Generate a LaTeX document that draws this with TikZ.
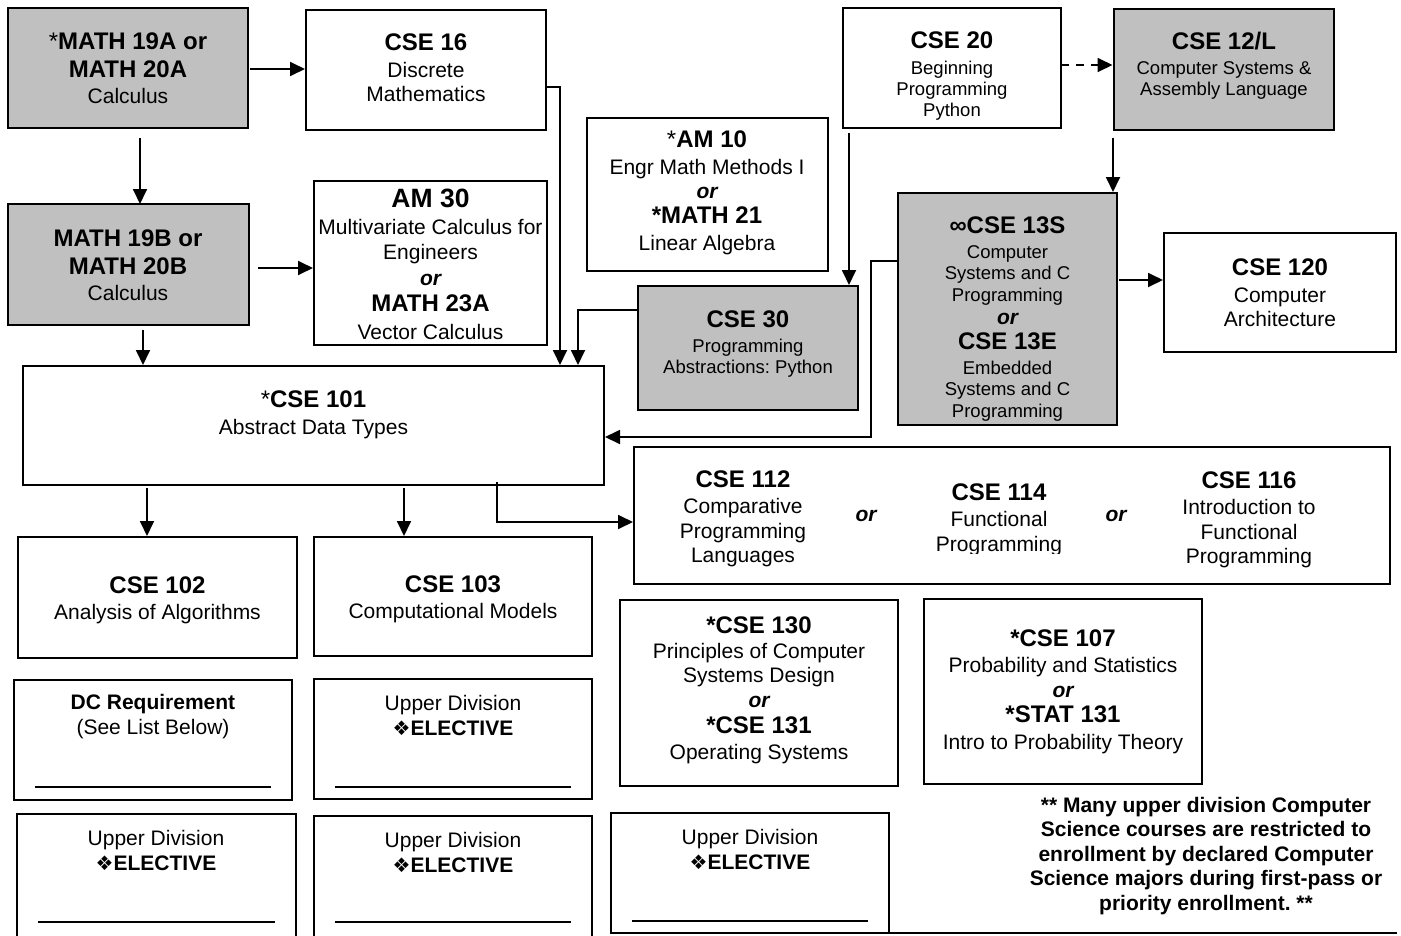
\documentclass[tikz,border=0pt]{standalone}
\usepackage{fontspec}
\setmainfont{Liberation Sans}
\newfontfamily\dejavu{DejaVu Sans}
\usetikzlibrary{arrows.meta,calc}
\frenchspacing
\newcommand\crs[1]{{\bfseries\fontsize{24}{26}\selectfont #1}}
\newcommand\astk{{\fontsize{24}{26}\selectfont *}}
\newcommand\orword{{\bfseries\itshape or}}
\newcommand\diam{{\dejavu\fontsize{20}{20}\selectfont ❖}}
\newcommand\bx[6]{\node[#6, minimum width={#4-#2}, minimum height={#5-#3}] (#1) at ({(#2+#4)/2},{(#3+#5)/2}) {};}
\begin{document}
\begin{tikzpicture}[x=1pt,y=-1pt,
  box/.style={draw=black, line width=1.8pt, inner sep=0pt, outer sep=0pt, fill=white},
  gbox/.style={box, fill=gray75},
  txt/.style={align=center, inner sep=0pt, font=\fontsize{21}{24}\selectfont},
  stxt/.style={align=center, inner sep=0pt, font=\fontsize{18.5}{21.5}\selectfont},
  arr/.style={line width=1.8pt, -{Triangle[length=15pt,width=14pt]}},
  uline/.style={line width=1.2pt}]
\definecolor{gray75}{HTML}{C0C0C0}
\clip (0,0) rectangle (1401,935);
\fill[white] (0,0) rectangle (1401,935);
% boxes
\bx{m19a}{8}{8}{248}{128}{gbox}
\bx{cse16}{306}{10}{546}{130}{box}
\bx{cse20}{843}{8}{1061}{128}{box}
\bx{cse12}{1114}{9}{1334}{130}{gbox}
\bx{am10}{587}{118}{828}{271}{box}
\bx{m19b}{8}{204}{249}{325}{gbox}
\bx{am30}{314}{181}{547}{345}{box}
\bx{cse13}{898}{193}{1117}{425}{gbox}
\bx{cse120}{1164}{233}{1396}{352}{box}
\bx{cse30}{638}{286}{858}{410}{gbox}
\bx{cse101}{23}{366}{604}{485}{box}
\bx{cse112}{634}{447}{1390}{584}{box}
\bx{cse102}{18}{537}{297}{658}{box}
\bx{cse103}{314}{537}{592}{656}{box}
\bx{cse130}{620}{600}{898}{786}{box}
\bx{cse107}{924}{599}{1202}{784}{box}
\bx{dc}{14}{680}{292}{800}{box}
\bx{ud1}{314}{679}{592}{799}{box}
\bx{ud2}{17}{814}{296}{955}{box}
\bx{ud3}{314}{816}{592}{955}{box}
\bx{ud4}{611}{813}{889}{933}{box}
% texts
\node[txt] (t-m19a) at (128,68) {\astk\crs{MATH 19A or}\\[4pt]\crs{MATH 20A}\\[2pt]Calculus};
\node[txt] (t-cse16) at (426,67.5) {\crs{CSE 16}\\[3pt]Discrete\\Mathematics};
\node[stxt, font=\fontsize{18.5}{21}\selectfont] (t-cse20) at (952,76) {\crs{CSE 20}\\[4.5pt]Beginning\\Programming\\Python};
\node[stxt, font=\fontsize{18.5}{21}\selectfont] (t-cse12) at (1224,66) {\crs{CSE 12/L}\\[4pt]Computer Systems \&\\Assembly Language};
\node[txt] (t-am10) at (707,192.5) {\astk\crs{AM 10}\\[3pt]Engr Math Methods I\\\orword\\[1pt]\crs{*MATH 21}\\[3pt]Linear Algebra};
\node[txt] (t-m19b) at (128,265) {\crs{MATH 19B or}\\[4pt]\crs{MATH 20B}\\[2pt]Calculus};
\node[txt] (t-am30) at (430.5,264) {{\bfseries\fontsize{26.5}{28}\selectfont AM 30}\\[3pt]Multivariate Calculus for\\[1pt]Engineers\\[2pt]\orword\\[2pt]\crs{MATH 23A}\\[4pt]Vector Calculus};
\node[stxt] (t-cse13) at (1007.5,319) {\crs{∞CSE 13S}\\[3.5pt]Computer\\Systems and C\\Programming\\[1.5pt]{\fontsize{21}{24}\selectfont\orword}\\[3.5pt]\crs{CSE 13E}\\[3.5pt]Embedded\\Systems and C\\Programming};
\node[txt] (t-cse120) at (1280,292.5) {\crs{CSE 120}\\[3pt]Computer\\Architecture};
\node[stxt, font=\fontsize{18.5}{21}\selectfont] (t-cse30) at (748,344) {\crs{CSE 30}\\[4pt]Programming\\Abstractions: Python};
\node[txt] (t-cse101) at (313.5,415) {\astk\crs{CSE 101}\\[3pt]Abstract Data Types};
\node[txt] (t-cse112) at (743,518.5) {\crs{CSE 112}\\[2pt]Comparative\\[1pt]Programming\\Languages};
\node[txt] (or1) at (866,516) {\orword};
\begin{scope}
\clip (880,460) rectangle (1100,553);
\node[txt] (t-cse114) at (999,519.5) {\crs{CSE 114}\\[2pt]Functional\\[1pt]Programming};
\end{scope}
\node[txt] (or2) at (1116,516) {\orword};
\node[txt] (t-cse116) at (1249,519.5) {\crs{CSE 116}\\[2pt]Introduction to\\[1pt]Functional\\Programming};
\node[txt] (t-cse102) at (157.5,600.5) {\crs{CSE 102}\\[2pt]Analysis of Algorithms};
\node[txt] (t-cse103) at (453,599.5) {\crs{CSE 103}\\[2pt]Computational Models};
\node[txt] (t-cse130) at (759,690) {\crs{*CSE 130}\\[1pt]Principles of Computer\\Systems Design\\[1pt]\orword\\[2pt]\crs{*CSE 131}\\[2pt]Operating Systems};
\node[txt] (t-cse107) at (1063,691.5) {\crs{*CSE 107}\\[2pt]Probability and Statistics\\[1pt]\orword\\[1pt]\crs{*STAT 131}\\[3pt]Intro to Probability Theory};
\node[txt] (t-dc) at (153,716.5) {\textbf{DC Requirement}\\[1pt](See List Below)};
\node[txt] (t-ud1) at (453,715) {Upper Division\\[1pt]\diam\textbf{ELECTIVE}};
\node[txt] (t-ud2) at (156,850) {Upper Division\\[1pt]\diam\textbf{ELECTIVE}};
\node[txt] (t-ud3) at (453,852.5) {Upper Division\\[1pt]\diam\textbf{ELECTIVE}};
\node[txt] (t-ud4) at (750,849.5) {Upper Division\\[1pt]\diam\textbf{ELECTIVE}};
\node[align=center, inner sep=0pt, font=\bfseries\fontsize{21}{24.5}\selectfont] (note) at (1206,856) {** Many upper division Computer\\Science courses are restricted to\\enrollment by declared Computer\\Science majors during first-pass or\\priority enrollment. **};
% write-in lines
\draw[uline] ($(dc.north west)+(21,107)$) -- ($(dc.north east)+(-21,107)$);
\draw[uline] ($(ud1.north west)+(21,108)$) -- ($(ud1.north east)+(-21,108)$);
\draw[uline] ($(ud2.north west)+(21,108)$) -- ($(ud2.north east)+(-21,108)$);
\draw[uline] ($(ud3.north west)+(21,106)$) -- ($(ud3.north east)+(-21,106)$);
\draw[uline] ($(ud4.north west)+(21,108)$) -- ($(ud4.north east)+(-21,108)$);
\draw[line width=1.8pt] (ud4.south east) -- ($(ud4.south east)+(508,0)$);
% connectors
\coordinate (s1) at ($(m19a.south)+(12,10)$);
\draw[arr] ($(m19a.east)+(2,1)$) -- ($(cse16.west)+(-1,-1)$);
\draw[arr] (s1) -- (s1 |- m19b.north);
\coordinate (s2) at ($(m19b.east)+(9,3.5)$);
\draw[arr] (s2) -- ($(s2 -| am30.west)+(-1,0)$);
\coordinate (s3) at ($(m19b.south)+(14.5,5)$);
\draw[arr] (s3) -- ($(s3 |- cse101.north)+(0,-1)$);
\coordinate (k1) at ($(cse101.north east)+(-44,-1)$);
\draw[arr] ($(cse16.east)+(0,17)$) -| (k1);
\coordinate (k2) at ($(cse101.north east)+(-26,-1)$);
\draw[arr] ($(cse30.west)+(0,-38)$) -| (k2);
\coordinate (s4) at ($(cse20.south)+(-103,5)$);
\draw[arr] (s4) -- ($(s4 |- cse30.north)+(0,-1)$);
\coordinate (s5) at ($(cse12.south)+(-111,8)$);
\draw[arr] (s5) -- ($(s5 |- cse13.north)+(0,-1)$);
\coordinate (s6) at ($(cse20.east)+(0,-3)$);
\draw[arr, dash pattern=on 8pt off 7pt] (s6) -- ($(s6 -| cse12.west)+(-1.5,0)$);
\coordinate (j1) at ($(cse13.west)+(-27,-48)$);
\draw[arr] ($(cse13.west)+(0,-48)$) -- (j1) |- ($(cse101.east)+(1,11.5)$);
\coordinate (s7) at ($(cse13.east)+(2,-29)$);
\draw[arr] (s7) -- ($(s7 -| cse120.west)+(-1,0)$);
\coordinate (s8) at ($(cse101.south)+(-166.5,3)$);
\draw[arr] (s8) -- ($(s8 |- cse102.north)+(0,-1)$);
\coordinate (s9) at ($(cse101.south)+(90.5,3)$);
\draw[arr] (s9) -- ($(s9 |- cse103.north)+(0,-1)$);
\coordinate (s10) at ($(cse101.south)+(183.5,-3)$);
\draw[arr] (s10) |- ($(cse112.west)+(-1,6.5)$);
\end{tikzpicture}
\end{document}
